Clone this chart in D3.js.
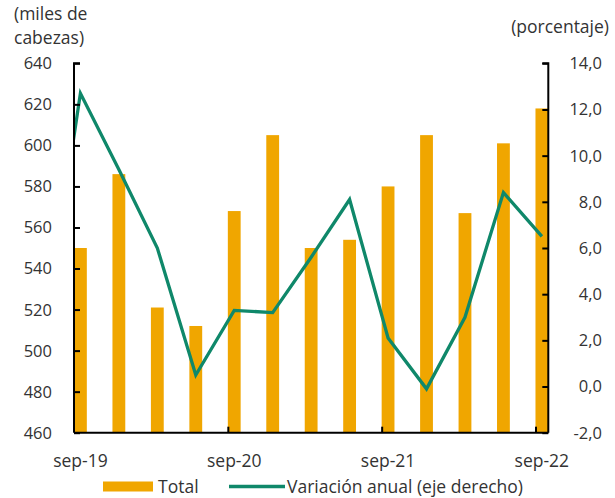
<!DOCTYPE html>
<html>
<head>
<meta charset="utf-8">
<script src="https://cdn.jsdelivr.net/npm/d3@7"></script>
<style>
  html, body { margin: 0; padding: 0; background: #fff; }
  svg { display: block; }
  text { font-family: "Open Sans", "Noto Sans", sans-serif; fill: #333; }
</style>
</head>
<body>
<svg id="chart" width="615" height="498"></svg>
<script>
// ---- Data ----
const quarters = ["sep-19","dic-19","mar-20","jun-20","sep-20","dic-20","mar-21","jun-21","sep-21","dic-21","mar-22","jun-22","sep-22"];
const monthIndex = [0,3,6,9,12,15,18,21,24,27,30,33,36];
const total = [550, 586, 521, 512, 568, 605, 550, 554, 580, 605, 567, 601, 618];
// previous quarter (jun-19) included so the line enters from the left edge
const lineQuarters = ["jun-19"].concat(quarters);
const lineMonths = [-3].concat(monthIndex);
const variacion = [1.6, 12.7, 9.4, 6.0, 0.5, 3.3, 3.2, 5.6, 8.1, 2.1, -0.1, 3.0, 8.4, 6.5];
const xTickLabels = ["sep-19","sep-20","sep-21","sep-22"];
const xTickMonths = [0, 12, 24, 36];
const leftTicks = [460,480,500,520,540,560,580,600,620,640];
const rightTicks = [-2,0,2,4,6,8,10,12,14];

// ---- Layout ----
const pL = 74, pR = 548.3, pT = 63.3, pB = 432.7;
const svg = d3.select("#chart");

const x = d3.scaleLinear().domain([-0.5, 36.5]).range([pL, pR]);
const yL = d3.scaleLinear().domain([460, 640]).range([pB, pT]);
const yR = d3.scaleLinear().domain([-2, 14]).range([pB, pT]);
const monthW = x(1) - x(0);

const locale = d3.formatLocale({decimal: ",", thousands: ".", grouping: [3], currency: ["", ""], minus: "-"});
const fmt1 = locale.format(".1f");

svg.append("defs").append("clipPath").attr("id", "plotclip")
  .append("rect").attr("x", pL).attr("y", pT - 5).attr("width", pR - pL).attr("height", pB - pT + 5);

// Bars
svg.append("g").selectAll("rect").data(total).join("rect")
  .attr("x", (d, i) => x(monthIndex[i]) - monthW / 2)
  .attr("width", monthW)
  .attr("y", d => yL(d))
  .attr("height", d => yL(460) - yL(d))
  .attr("fill", "#F0A600");

// Line
const lineGen = d3.line().x((d, i) => x(lineMonths[i])).y(d => yR(d));
svg.append("path").datum(variacion)
  .attr("clip-path", "url(#plotclip)")
  .attr("d", lineGen)
  .attr("fill", "none")
  .attr("stroke", "#0F886A")
  .attr("stroke-width", 3.3)
  .attr("stroke-linejoin", "miter");

// Axes
const numSize = "16.5px";
const txtSize = "17.5px";
const gL = svg.append("g").attr("transform", `translate(${pL},0)`)
  .call(d3.axisRight(yL).tickValues(leftTicks).tickSize(6).tickFormat(""));
const gR = svg.append("g").attr("transform", `translate(${pR},0)`)
  .call(d3.axisLeft(yR).tickValues(rightTicks).tickSize(6).tickFormat(""));
const gB = svg.append("g").attr("transform", `translate(0,${pB})`)
  .call(d3.axisTop(x).tickValues(xTickMonths.slice(1).map(m => m - 0.5)).tickSize(6).tickFormat(""));
[gL, gR, gB].forEach(g => {
  g.select(".domain").attr("stroke", "#000").attr("stroke-width", 2);
  g.selectAll(".tick line").attr("stroke", "#000").attr("stroke-width", 2);
});
gL.select(".domain").attr("d", `M6,${pT}H0V${pB}`);
gR.select(".domain").attr("d", `M-6,${pT}H0V${pB}`);
gB.select(".domain").attr("d", `M${pL},0H${pR}`);

// Tick labels
svg.append("g").selectAll("text").data(leftTicks).join("text")
  .attr("x", 52).attr("y", d => yL(d)).attr("dy", "0.36em")
  .attr("text-anchor", "end").style("font-size", numSize).text(d => d);
svg.append("g").selectAll("text").data(rightTicks).join("text")
  .attr("x", 602).attr("y", d => yR(d)).attr("dy", "0.36em")
  .attr("text-anchor", "end").style("font-size", numSize).text(d => fmt1(d));
svg.append("g").selectAll("text").data(xTickLabels).join("text")
  .attr("x", (d, i) => x(xTickMonths[i])).attr("y", 467)
  .attr("text-anchor", "middle").style("font-size", txtSize).text(d => d);

// Axis titles
svg.append("text").attr("x", 14).attr("y", 20).style("font-size", txtSize).text("(miles de");
svg.append("text").attr("x", 14).attr("y", 44).style("font-size", txtSize).text("cabezas)");
svg.append("text").attr("x", 609).attr("y", 33).attr("text-anchor", "end").style("font-size", txtSize).text("(porcentaje)");

// Legend
const lg = svg.append("g");
lg.append("rect").attr("x", 103).attr("y", 481.5).attr("width", 50).attr("height", 10).attr("fill", "#F0A600");
lg.append("text").attr("x", 158).attr("y", 493).style("font-size", txtSize).text("Total");
lg.append("line").attr("x1", 229).attr("x2", 285).attr("y1", 486.5).attr("y2", 486.5)
  .attr("stroke", "#0F886A").attr("stroke-width", 3.3);
lg.append("text").attr("x", 287).attr("y", 493).style("font-size", txtSize).text("Variación anual (eje derecho)");
</script>
</body>
</html>
